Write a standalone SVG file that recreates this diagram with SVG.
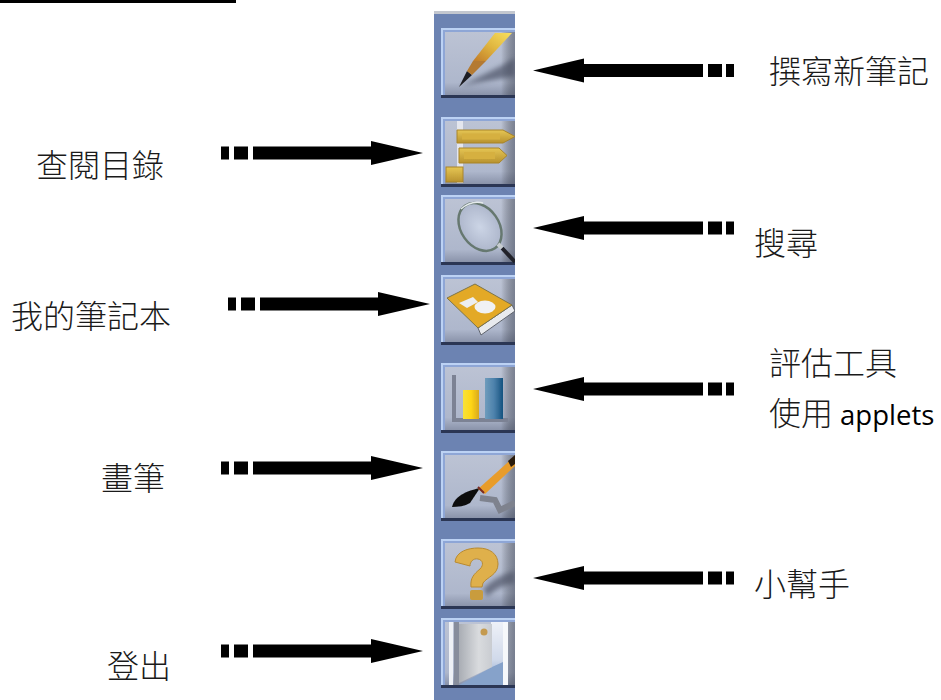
<svg xmlns="http://www.w3.org/2000/svg" width="941" height="700" viewBox="0 0 941 700">
<style>
text{font-family:"Noto Sans CJK TC","Noto Sans CJK SC",sans-serif;font-size:32px;fill:#1a1a1a;font-weight:300}
.lat{font-family:"Open Sans","Noto Sans",sans-serif;font-size:27.5px;fill:#000;font-weight:400}
.bl{filter:url(#b)}
</style>
<defs>
<filter id="b" x="-20%" y="-20%" width="140%" height="140%"><feGaussianBlur stdDeviation="0.7"/></filter>
<filter id="s" x="-30%" y="-30%" width="160%" height="160%"><feGaussianBlur stdDeviation="2.5"/></filter>
<linearGradient id="face" x1="0" y1="0" x2="0" y2="1"><stop offset="0" stop-color="#bcc3d4"/><stop offset="0.8" stop-color="#aeb7cc"/><stop offset="1" stop-color="#8a93aa"/></linearGradient>
<linearGradient id="edge" x1="0" y1="0" x2="1" y2="0"><stop offset="0" stop-color="#000" stop-opacity="0"/><stop offset="1" stop-color="#3a4050" stop-opacity=".5"/></linearGradient>
<linearGradient id="gold" x1="0" y1="0" x2="0" y2="1"><stop offset="0" stop-color="#e6c654"/><stop offset="1" stop-color="#b8922e"/></linearGradient>
<linearGradient id="pen" x1="0" y1="1" x2="1" y2="0"><stop offset="0" stop-color="#c07a28"/><stop offset=".5" stop-color="#e0b640"/><stop offset="1" stop-color="#f8e060"/></linearGradient>
<linearGradient id="yel" x1="0" y1="0" x2="1" y2="0"><stop offset="0" stop-color="#f7e23a"/><stop offset=".5" stop-color="#ffd614"/><stop offset="1" stop-color="#d8a820"/></linearGradient>
<linearGradient id="blu" x1="0" y1="0" x2="1" y2="0"><stop offset="0" stop-color="#6f9cbc"/><stop offset=".5" stop-color="#4d82ac"/><stop offset="1" stop-color="#15527f"/></linearGradient>
<linearGradient id="door" x1="0" y1="0" x2="1" y2="0"><stop offset="0" stop-color="#a9adb4"/><stop offset=".6" stop-color="#d9dbde"/><stop offset="1" stop-color="#c9ccd1"/></linearGradient>
<linearGradient id="hall" x1="0" y1="0" x2="0" y2="1"><stop offset="0" stop-color="#eef1f8"/><stop offset=".6" stop-color="#d0d9ea"/><stop offset="1" stop-color="#7f9cc6"/></linearGradient>
<radialGradient id="lens"><stop offset="0" stop-color="#ccd5e6"/><stop offset="1" stop-color="#aeb7cc"/></radialGradient>
<clipPath id="c"><rect x="0" y="0" width="74" height="72"/></clipPath>
<g id="btn">
<rect x="0" y="0" width="74" height="70" fill="#bcd2f4"/>
<rect x="2" y="2" width="72" height="66" fill="#8ea6d6"/>
<rect x="4" y="4" width="70" height="63" fill="url(#face)"/>
<rect x="60" y="4" width="14" height="63" fill="url(#edge)"/>
<rect x="0" y="67" width="74" height="3" fill="#2b3654"/>
</g>
<path id="ar" d="M0 -6.5H8V6.5H0ZM13 -6.5H27V6.5H13ZM32 -6.5H150V-12L202 0L150 12V6.5H32Z" fill="#000"/>
<path id="al" d="M0 0L51 -12V-6.5H170V6.5H51V12ZM175 -6.5H189V6.5H175ZM193 -6.5H201V6.5H193Z" fill="#000"/>
</defs>
<rect width="941" height="700" fill="#fff"/>
<rect id="top-rule" x="0" y="0" width="236" height="3" fill="#000"/>
<g id="panel"><rect x="434" y="11" width="81" height="689" fill="#6c83b2"/><rect x="434" y="11" width="81" height="3" fill="#c3c7cf"/></g>

<g id="btn-write" transform="translate(441 28)"><use href="#btn"/><g clip-path="url(#c)">
<path d="M20 58L60 38L74 30V48L30 56Z" fill="#454b5e" opacity=".65" filter="url(#s)"/>
<g class="bl"><path d="M18 59L26 43L31 47Z" fill="#1c1c20"/><path d="M26 43L32 33L45 33L31 47Z" fill="#b47a30"/><path d="M32 33L54 5H71L45 33Z" fill="url(#pen)"/></g></g></g>

<g id="btn-contents" transform="translate(441 117)"><use href="#btn"/><g clip-path="url(#c)" class="bl">
<rect x="16" y="4" width="6" height="62" fill="#e4e6ee"/>
<path d="M16 13H62L74 19.5L62 26H16Z" fill="url(#gold)" stroke="#a8842a"/><rect x="21" y="16.500" width="38" height="6" fill="#d6b040"/>
<path d="M18 31H58L66 38.500L58 46H18Z" fill="url(#gold)" stroke="#a8842a"/><rect x="23" y="35" width="31" height="7" fill="#d6b040"/>
<rect x="5" y="50" width="17" height="15" fill="url(#gold)" stroke="#a8842a"/></g></g>

<g id="btn-search" transform="translate(441 195)"><use href="#btn"/><g clip-path="url(#c)" class="bl">
<ellipse cx="39" cy="32" rx="19" ry="26" transform="rotate(-35 39 32)" fill="url(#lens)" stroke="#66786f" stroke-width="2.500"/>
<path d="M20 14Q30 5 42 8" fill="none" stroke="#e4eaec" stroke-width="1.500"/>
<path d="M61 53L74 67" stroke="#20242c" stroke-width="4"/><path d="M57 49L61 53" stroke="#c7ccd0" stroke-width="4"/></g></g>

<g id="btn-notebook" transform="translate(441 275)"><use href="#btn"/><g clip-path="url(#c)" class="bl">
<path d="M37 53L71 30L74 36L40 60Z" fill="#e8eaee" stroke="#5f636c"/>
<path d="M6 23L34 9L71 30L37 53Z" fill="#e3a926" stroke="#7d7448"/>
<path d="M18 28L32 22L37 27L26 33Z" fill="#eceef0"/><ellipse cx="44" cy="32" rx="10.500" ry="6.500" fill="#f0f1f3"/></g></g>

<g id="btn-assess" transform="translate(441 363)"><use href="#btn"/><g clip-path="url(#c)" class="bl">
<rect x="11" y="12" width="4" height="47" fill="#7c8294"/><rect x="11" y="55" width="56" height="4" fill="#7c8294"/>
<rect x="22" y="27" width="16" height="29" fill="url(#yel)"/><rect x="44" y="15" width="18" height="41" fill="url(#blu)"/></g></g>

<g id="btn-draw" transform="translate(441 451)"><use href="#btn"/><g clip-path="url(#c)" class="bl">
<path d="M39 47L54 49L59 59L74 52" fill="none" stroke="#7e828e" stroke-width="6"/>
<path d="M11 56C13 48 20 41 39 37L29 52C24 55 17 56 11 56Z" fill="#0d0d10"/>
<path d="M37 38L44 43L74 15V5Z" fill="#e89c2c"/><path d="M67 10L74 4V13L70 16Z" fill="#2c1c10"/><path d="M37 36L43 42" stroke="#7a2a20" stroke-width="2"/></g></g>

<g id="btn-help" transform="translate(441 539)"><use href="#btn"/><g clip-path="url(#c)">
<path d="M42 50Q56 36 74 32V44Q58 46 46 58Z" fill="#4f5568" opacity=".7" filter="url(#s)"/>
<g class="bl"><path d="M14 23C15 12 28 9 37 9C49 9 57 15 57 25C57 36 46 38 42 44L41 48H30C29 39 33 35 39 30C43 26 42 21 37 20C32 19 29 23 29 27Z" fill="#dfb04c" stroke="#b88a30"/><rect x="29" y="51" width="13" height="10" rx="2" fill="#c99c3c"/></g></g></g>

<g id="btn-logout" transform="translate(441 618)"><use href="#btn"/><g clip-path="url(#c)" class="bl">
<rect x="8" y="4" width="4" height="63" fill="#eef1f6"/><rect x="13" y="4" width="5" height="63" fill="#878d9c"/>
<rect x="50" y="4" width="12" height="63" fill="url(#hall)"/><rect x="62" y="4" width="5" height="63" fill="#f6f8fb"/>
<path d="M51 49L62 44V67H18Z" fill="#86a2ca"/>
<path d="M18 6H51V49L18 65Z" fill="url(#door)"/><circle cx="43" cy="14" r="3.500" fill="#c49a50"/></g></g>

<g id="connectors">
<use href="#al" x="533" y="70.5"/><use href="#al" x="533" y="228"/><use href="#al" x="533" y="389"/><use href="#al" x="533" y="578"/>
<use href="#ar" x="221" y="153"/><use href="#ar" x="228" y="304"/><use href="#ar" x="221" y="468"/><use href="#ar" x="221" y="651"/>
</g>
<g id="labels">
<text x="769" y="83">撰寫新筆記</text>
<text x="36" y="177">查閱目錄</text>
<text x="754" y="255">搜尋</text>
<text x="11" y="328">我的筆記本</text>
<text x="769" y="375">評估工具</text>
<text x="769" y="425">使用 <tspan class="lat">applets</tspan></text>
<text x="101" y="490">畫筆</text>
<text x="754" y="596">小幫手</text>
<text x="107" y="678">登出</text>
</g>
</svg>
